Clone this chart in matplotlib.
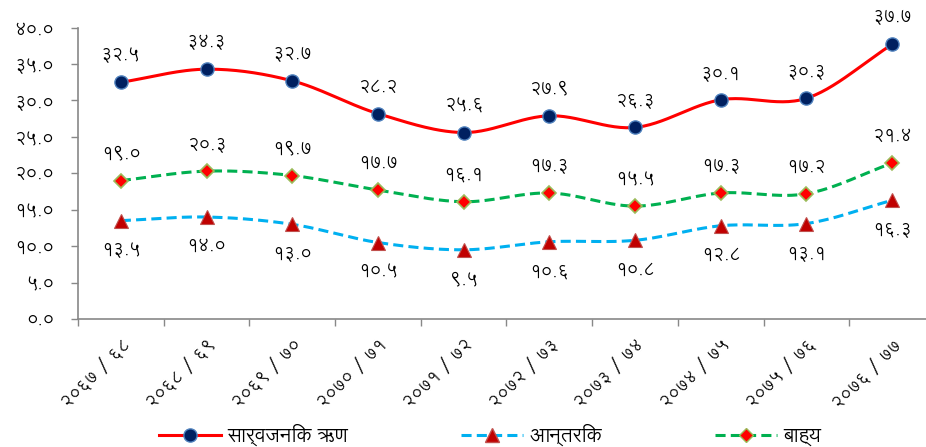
import numpy as np
import matplotlib
matplotlib.use('Agg')
import matplotlib.pyplot as plt
from matplotlib.ticker import FuncFormatter

plt.rcParams['font.family'] = ['Lohit Devanagari', 'Noto Sans Devanagari', 'DejaVu Sans']

years = ['२०६७/६८', '२०६८/६९', '२०६९/७०', '२०७०/७१', '२०७१/७२',
         '२०७२/७३', '२०७३/७४', '२०७४/७५', '२०७५/७६', '२०७६/७७']
public_debt = [32.5, 34.3, 32.7, 28.2, 25.6, 27.9, 26.3, 30.1, 30.3, 37.7]
internal = [13.5, 14.0, 13.0, 10.5, 9.5, 10.6, 10.8, 12.8, 13.1, 16.3]
external = [19.0, 20.3, 19.7, 17.7, 16.1, 17.3, 15.5, 17.3, 17.2, 21.4]
labels = ['सार्वजनिक ऋण', 'आन्तरिक', 'बाह्य']

DEV = str.maketrans('0123456789', '०१२३४५६७८९')


def dev(s):
    return s.translate(DEV)


def smooth(x, y, n=30):
    # excel-like smoothed line (catmull-rom through the points)
    x = np.asarray(x, float)
    y = np.asarray(y, float)
    px = np.concatenate([[2 * x[0] - x[1]], x, [2 * x[-1] - x[-2]]])
    py = np.concatenate([[2 * y[0] - y[1]], y, [2 * y[-1] - y[-2]]])
    xs, ys = [], []
    t = np.linspace(0, 1, n)
    for i in range(1, len(px) - 2):
        p0, p1, p2, p3 = (np.array([px[j], py[j]]) for j in range(i - 1, i + 3))
        c1 = p1 + (p2 - p0) / 6
        c2 = p2 - (p3 - p1) / 6
        b = ((1 - t) ** 3)[:, None] * p1 + (3 * (1 - t) ** 2 * t)[:, None] * c1 \
            + (3 * (1 - t) * t ** 2)[:, None] * c2 + (t ** 3)[:, None] * p2
        xs.append(b[:, 0])
        ys.append(b[:, 1])
    return np.concatenate(xs), np.concatenate(ys)


fig = plt.figure(figsize=(9.26, 4.47), dpi=100)
ax = fig.add_axes([0.0842, 0.2864, 0.9255, 0.6517])

x = np.arange(len(years))
LW = 2.2
DASH = (0, (3.3, 1.7))

sx, sy = smooth(x, public_debt)
ax.plot(sx, sy, color='#FF0000', lw=LW, zorder=2)
ax.plot(x, public_debt, ls='none', marker='o', ms=9.5, mfc='#002060',
        mec='#4F81BD', mew=1.0, zorder=3)

sx, sy = smooth(x, internal)
ax.plot(sx, sy, color='#00B0F0', lw=LW, ls=DASH, zorder=2)
ax.plot(x, internal, ls='none', marker='^', ms=10.5, mfc='#C00000',
        mec='#C0504D', mew=0.8, zorder=3)

sx, sy = smooth(x, external)
ax.plot(sx, sy, color='#00B050', lw=LW, ls=DASH, zorder=2)
ax.plot(x, external, ls='none', marker='D', ms=7.5, mfc='#FF0000',
        mec='#9BBB59', mew=1.2, zorder=3)

for i in x:
    ax.annotate(dev(f'{public_debt[i]:.1f}'), (i, public_debt[i]), xytext=(0, 19.5),
                textcoords='offset points', ha='center', va='center', fontsize=13)
    ax.annotate(dev(f'{external[i]:.1f}'), (i, external[i]), xytext=(0, 19.5),
                textcoords='offset points', ha='center', va='center', fontsize=13)
    ax.annotate(dev(f'{internal[i]:.1f}'), (i, internal[i]), xytext=(0, -21),
                textcoords='offset points', ha='center', va='center', fontsize=13)

ax.set_xlim(-0.5, len(years) - 0.5)
ax.set_ylim(0, 40)
ax.set_yticks(np.arange(0, 41, 5))
ax.yaxis.set_major_formatter(FuncFormatter(lambda v, p: dev(f'{v:.1f}')))
ax.set_xticks(x)
ax.set_xticklabels([y.replace('/', ' / ') for y in years], rotation=45,
                   ha='right', rotation_mode='anchor')
ax.set_xticks(np.arange(-0.5, len(years), 1), minor=True)
ax.tick_params(axis='x', which='major', length=0, pad=12, labelsize=12.5)
ax.tick_params(axis='x', which='minor', length=5, color='#888888', width=1)
ax.tick_params(axis='y', length=5, color='#888888', width=1, labelsize=13, pad=12)

for s in ['top', 'right']:
    ax.spines[s].set_visible(False)
for s in ['left', 'bottom']:
    ax.spines[s].set_color('#888888')
    ax.spines[s].set_linewidth(1.2)

handles = [
    plt.Line2D([], [], color='#FF0000', lw=LW, marker='o', ms=9.5,
               mfc='#002060', mec='#4F81BD'),
    plt.Line2D([], [], color='#00B0F0', lw=LW, ls=DASH, marker='^',
               ms=10.5, mfc='#C00000', mec='#C0504D'),
    plt.Line2D([], [], color='#00B050', lw=LW, ls=DASH, marker='D',
               ms=7.5, mfc='#FF0000', mec='#9BBB59'),
]
fig.legend(handles, labels, loc='center', bbox_to_anchor=(0.529, 0.025), ncol=3,
           frameon=False, fontsize=14.5, handlelength=3.1, columnspacing=5.6,
           handletextpad=0.3, markerfirst=True)

fig.savefig('out.png', dpi=100)
